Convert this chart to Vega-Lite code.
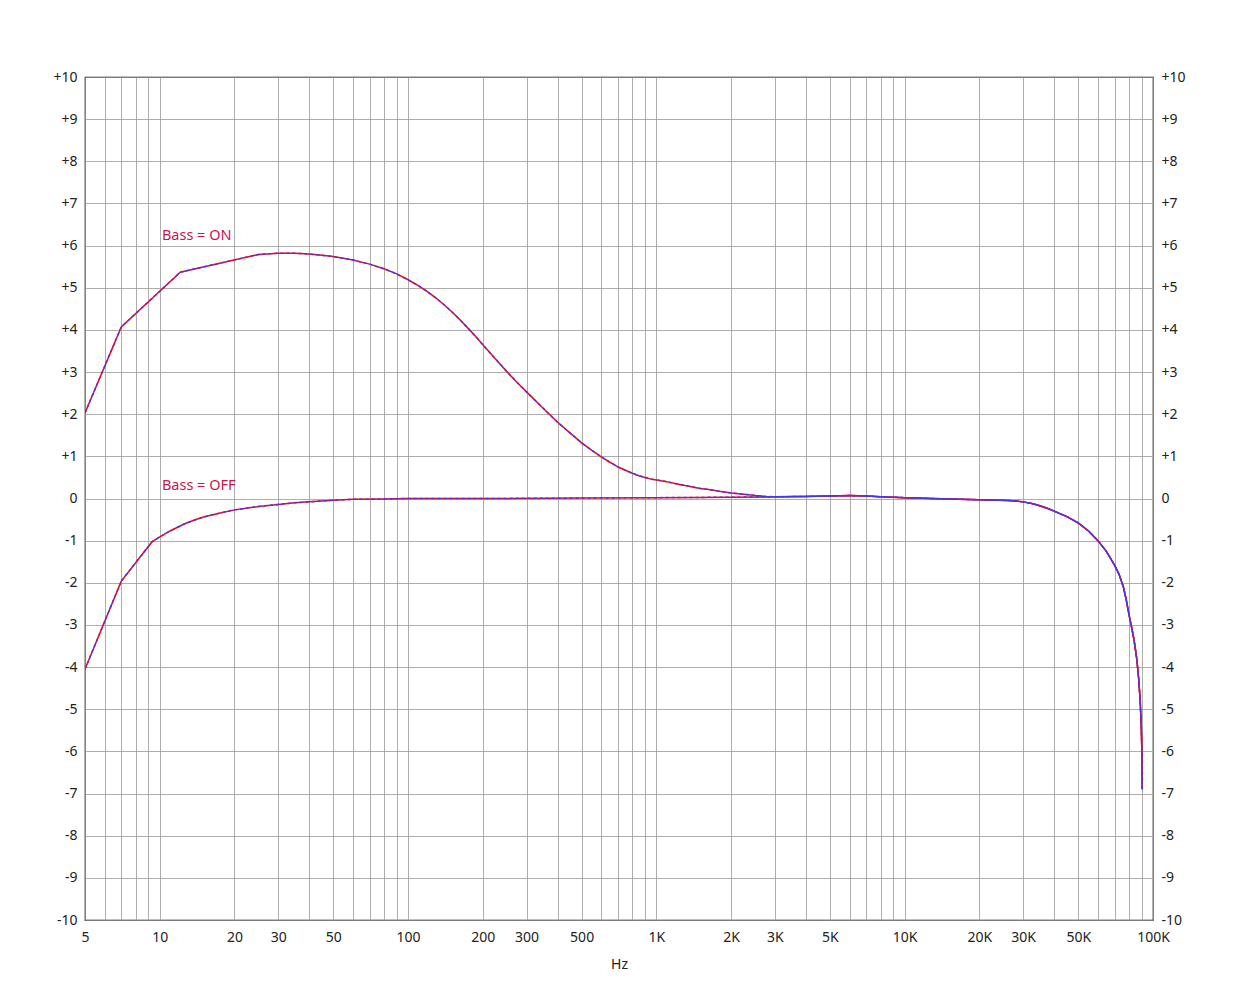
{
  "$schema": "https://vega.github.io/schema/vega-lite/v6.json",
  "width": 1068,
  "height": 843,
  "autosize": {"type": "none"},
  "padding": {"left": 85, "top": 77, "right": 87, "bottom": 75},
  "background": "white",
  "config": {
    "font": "Noto Sans",
    "view": {"stroke": "black", "strokeWidth": 1.2}
  },
  "datasets": {
    "resp": [
      {"f": 5, "db": 2.03, "curve": "ON"},
      {"f": 7, "db": 4.07, "curve": "ON"},
      {"f": 12.1, "db": 5.37, "curve": "ON"},
      {"f": 25, "db": 5.79, "curve": "ON"},
      {"f": 30, "db": 5.82, "curve": "ON"},
      {"f": 35, "db": 5.82, "curve": "ON"},
      {"f": 40, "db": 5.8, "curve": "ON"},
      {"f": 45, "db": 5.77, "curve": "ON"},
      {"f": 50, "db": 5.74, "curve": "ON"},
      {"f": 60, "db": 5.66, "curve": "ON"},
      {"f": 70, "db": 5.56, "curve": "ON"},
      {"f": 80, "db": 5.45, "curve": "ON"},
      {"f": 90, "db": 5.33, "curve": "ON"},
      {"f": 100, "db": 5.19, "curve": "ON"},
      {"f": 110, "db": 5.05, "curve": "ON"},
      {"f": 120, "db": 4.9, "curve": "ON"},
      {"f": 130, "db": 4.75, "curve": "ON"},
      {"f": 140, "db": 4.59, "curve": "ON"},
      {"f": 150, "db": 4.43, "curve": "ON"},
      {"f": 160, "db": 4.27, "curve": "ON"},
      {"f": 175, "db": 4.03, "curve": "ON"},
      {"f": 190, "db": 3.8, "curve": "ON"},
      {"f": 200, "db": 3.65, "curve": "ON"},
      {"f": 212, "db": 3.48, "curve": "ON"},
      {"f": 225, "db": 3.31, "curve": "ON"},
      {"f": 237, "db": 3.16, "curve": "ON"},
      {"f": 250, "db": 3.01, "curve": "ON"},
      {"f": 275, "db": 2.75, "curve": "ON"},
      {"f": 300, "db": 2.53, "curve": "ON"},
      {"f": 350, "db": 2.14, "curve": "ON"},
      {"f": 400, "db": 1.81, "curve": "ON"},
      {"f": 450, "db": 1.55, "curve": "ON"},
      {"f": 500, "db": 1.32, "curve": "ON"},
      {"f": 550, "db": 1.14, "curve": "ON"},
      {"f": 600, "db": 0.99, "curve": "ON"},
      {"f": 650, "db": 0.86, "curve": "ON"},
      {"f": 700, "db": 0.75, "curve": "ON"},
      {"f": 750, "db": 0.67, "curve": "ON"},
      {"f": 800, "db": 0.6, "curve": "ON"},
      {"f": 850, "db": 0.54, "curve": "ON"},
      {"f": 900, "db": 0.5, "curve": "ON"},
      {"f": 950, "db": 0.46, "curve": "ON"},
      {"f": 1000, "db": 0.44, "curve": "ON"},
      {"f": 1100, "db": 0.4, "curve": "ON"},
      {"f": 1200, "db": 0.35, "curve": "ON"},
      {"f": 1350, "db": 0.29, "curve": "ON"},
      {"f": 1500, "db": 0.24, "curve": "ON"},
      {"f": 1650, "db": 0.21, "curve": "ON"},
      {"f": 1800, "db": 0.17, "curve": "ON"},
      {"f": 2000, "db": 0.13, "curve": "ON"},
      {"f": 2250, "db": 0.1, "curve": "ON"},
      {"f": 2500, "db": 0.07, "curve": "ON"},
      {"f": 2750, "db": 0.05, "curve": "ON"},
      {"f": 3000, "db": 0.04, "curve": "ON"},
      {"f": 4000, "db": 0.05, "curve": "ON"},
      {"f": 5000, "db": 0.06, "curve": "ON"},
      {"f": 6000, "db": 0.07, "curve": "ON"},
      {"f": 7000, "db": 0.06, "curve": "ON"},
      {"f": 8000, "db": 0.04, "curve": "ON"},
      {"f": 10000, "db": 0.02, "curve": "ON"},
      {"f": 15000, "db": -0.01, "curve": "ON"},
      {"f": 20000, "db": -0.03, "curve": "ON"},
      {"f": 26000, "db": -0.045, "curve": "ON"},
      {"f": 28000, "db": -0.06, "curve": "ON"},
      {"f": 30000, "db": -0.08, "curve": "ON"},
      {"f": 32500, "db": -0.12, "curve": "ON"},
      {"f": 35000, "db": -0.17, "curve": "ON"},
      {"f": 37500, "db": -0.23, "curve": "ON"},
      {"f": 40000, "db": -0.3, "curve": "ON"},
      {"f": 45000, "db": -0.43, "curve": "ON"},
      {"f": 50000, "db": -0.58, "curve": "ON"},
      {"f": 55000, "db": -0.77, "curve": "ON"},
      {"f": 60000, "db": -1.0, "curve": "ON"},
      {"f": 65000, "db": -1.26, "curve": "ON"},
      {"f": 70000, "db": -1.58, "curve": "ON"},
      {"f": 73000, "db": -1.8, "curve": "ON"},
      {"f": 76000, "db": -2.1, "curve": "ON"},
      {"f": 78000, "db": -2.4, "curve": "ON"},
      {"f": 80000, "db": -2.75, "curve": "ON"},
      {"f": 82000, "db": -3.05, "curve": "ON"},
      {"f": 84000, "db": -3.38, "curve": "ON"},
      {"f": 86000, "db": -3.8, "curve": "ON"},
      {"f": 87500, "db": -4.25, "curve": "ON"},
      {"f": 88800, "db": -4.8, "curve": "ON"},
      {"f": 89700, "db": -5.4, "curve": "ON"},
      {"f": 90200, "db": -6.0, "curve": "ON"},
      {"f": 90500, "db": -6.9, "curve": "ON"},
      {"f": 5, "db": -4.05, "curve": "OFF"},
      {"f": 7, "db": -1.96, "curve": "OFF"},
      {"f": 9.3, "db": -1.03, "curve": "OFF"},
      {"f": 10, "db": -0.91, "curve": "OFF"},
      {"f": 11, "db": -0.77, "curve": "OFF"},
      {"f": 12.6, "db": -0.6, "curve": "OFF"},
      {"f": 14, "db": -0.5, "curve": "OFF"},
      {"f": 15, "db": -0.44, "curve": "OFF"},
      {"f": 17, "db": -0.36, "curve": "OFF"},
      {"f": 20, "db": -0.27, "curve": "OFF"},
      {"f": 25, "db": -0.19, "curve": "OFF"},
      {"f": 30, "db": -0.14, "curve": "OFF"},
      {"f": 35, "db": -0.1, "curve": "OFF"},
      {"f": 40, "db": -0.08, "curve": "OFF"},
      {"f": 50, "db": -0.04, "curve": "OFF"},
      {"f": 60, "db": -0.02, "curve": "OFF"},
      {"f": 80, "db": -0.01, "curve": "OFF"},
      {"f": 100, "db": 0.0, "curve": "OFF"},
      {"f": 200, "db": 0.0, "curve": "OFF"},
      {"f": 500, "db": 0.01, "curve": "OFF"},
      {"f": 1000, "db": 0.02, "curve": "OFF"},
      {"f": 2000, "db": 0.03, "curve": "OFF"},
      {"f": 3000, "db": 0.04, "curve": "OFF"},
      {"f": 4000, "db": 0.05, "curve": "OFF"},
      {"f": 5000, "db": 0.06, "curve": "OFF"},
      {"f": 6000, "db": 0.07, "curve": "OFF"},
      {"f": 7000, "db": 0.06, "curve": "OFF"},
      {"f": 8000, "db": 0.04, "curve": "OFF"},
      {"f": 10000, "db": 0.02, "curve": "OFF"},
      {"f": 15000, "db": -0.01, "curve": "OFF"},
      {"f": 20000, "db": -0.03, "curve": "OFF"},
      {"f": 26000, "db": -0.045, "curve": "OFF"},
      {"f": 28000, "db": -0.06, "curve": "OFF"},
      {"f": 30000, "db": -0.08, "curve": "OFF"},
      {"f": 32500, "db": -0.12, "curve": "OFF"},
      {"f": 35000, "db": -0.17, "curve": "OFF"},
      {"f": 37500, "db": -0.23, "curve": "OFF"},
      {"f": 40000, "db": -0.3, "curve": "OFF"},
      {"f": 45000, "db": -0.43, "curve": "OFF"},
      {"f": 50000, "db": -0.58, "curve": "OFF"},
      {"f": 55000, "db": -0.77, "curve": "OFF"},
      {"f": 60000, "db": -1.0, "curve": "OFF"},
      {"f": 65000, "db": -1.26, "curve": "OFF"},
      {"f": 70000, "db": -1.58, "curve": "OFF"},
      {"f": 73000, "db": -1.8, "curve": "OFF"},
      {"f": 76000, "db": -2.1, "curve": "OFF"},
      {"f": 78000, "db": -2.4, "curve": "OFF"},
      {"f": 80000, "db": -2.75, "curve": "OFF"},
      {"f": 82000, "db": -3.05, "curve": "OFF"},
      {"f": 84000, "db": -3.38, "curve": "OFF"},
      {"f": 86000, "db": -3.8, "curve": "OFF"},
      {"f": 87500, "db": -4.25, "curve": "OFF"},
      {"f": 88800, "db": -4.8, "curve": "OFF"},
      {"f": 89700, "db": -5.4, "curve": "OFF"},
      {"f": 90200, "db": -6.0, "curve": "OFF"},
      {"f": 90500, "db": -6.9, "curve": "OFF"}
    ],
    "labels": [
      {"f": 10.2, "db": 6.23, "text": "Bass = ON"},
      {"f": 10.2, "db": 0.3, "text": "Bass = OFF"}
    ]
  },
  "encoding": {
    "x": {
      "field": "f",
      "type": "quantitative",
      "scale": {"type": "log", "domain": [5, 100000], "nice": false},
      "axis": {
        "title": "Hz",
        "values": [5,6,7,8,9,10,20,30,40,50,60,70,80,90,100,200,300,400,500,600,700,800,900,1000,2000,3000,4000,5000,6000,7000,8000,9000,10000,20000,30000,40000,50000,60000,70000,80000,90000,100000],
        "labelExpr": "indexof([5,10,20,30,50,100,200,300,500], datum.value) >= 0 ? '' + datum.value : (indexof([1000,2000,3000,5000,10000,20000,30000,50000,100000], datum.value) >= 0 ? (datum.value / 1000) + 'K' : '')",
        "grid": true,
        "gridColor": "#9a9a9a",
        "gridOpacity": 0.8,
        "ticks": false,
        "domain": false,
        "labelFont": "Noto Sans",
        "labelFontSize": 14,
        "labelColor": "#222222",
        "titleFont": "Noto Sans",
        "titleFontSize": 14,
        "titleFontWeight": "normal",
        "titleColor": "#222222",
        "labelFlush": false,
        "labelOverlap": false,
        "labelBound": false,
        "labelPadding": 10,
        "titlePadding": 13
      }
    }
  },
  "layer": [
    {
      "data": {"name": "resp"},
      "mark": {"type": "line", "color": "#ff0000", "strokeWidth": 1.5, "clip": true},
      "encoding": {
        "y": {
          "field": "db",
          "type": "quantitative",
          "scale": {"domain": [-10, 10], "nice": false},
          "axis": {
            "orient": "left",
            "title": null,
            "values": [-10,-9,-8,-7,-6,-5,-4,-3,-2,-1,0,1,2,3,4,5,6,7,8,9,10],
            "labelExpr": "datum.value > 0 ? '+' + datum.value : '' + datum.value",
            "grid": true,
            "gridColor": "#9a9a9a",
            "gridOpacity": 0.8,
            "ticks": false,
            "domain": false,
            "labelFont": "Noto Sans",
            "labelFontSize": 14,
            "labelColor": "#222222",
            "labelFlush": false,
            "labelOverlap": false,
            "labelPadding": 8
          }
        },
        "detail": {"field": "curve"}
      }
    },
    {
      "data": {"name": "resp"},
      "mark": {"type": "line", "color": "#3a3aff", "strokeWidth": 1.5, "strokeDash": [3, 3], "clip": true},
      "encoding": {
        "y": {
          "field": "db",
          "type": "quantitative",
          "axis": {
            "orient": "right",
            "title": null,
            "values": [-10,-9,-8,-7,-6,-5,-4,-3,-2,-1,0,1,2,3,4,5,6,7,8,9,10],
            "labelExpr": "datum.value > 0 ? '+' + datum.value : '' + datum.value",
            "grid": false,
            "ticks": false,
            "domain": false,
            "labelFont": "Noto Sans",
            "labelFontSize": 14,
            "labelColor": "#222222",
            "labelFlush": false,
            "labelOverlap": false,
            "labelPadding": 8
          }
        },
        "detail": {"field": "curve"}
      }
    },
    {
      "data": {"name": "labels"},
      "mark": {"type": "text", "align": "left", "baseline": "middle", "color": "#c8174f", "fontSize": 14.5, "font": "Noto Sans"},
      "encoding": {
        "y": {"field": "db", "type": "quantitative", "axis": null},
        "text": {"field": "text"}
      }
    }
  ],
  "resolve": {"axis": {"y": "independent"}}
}
